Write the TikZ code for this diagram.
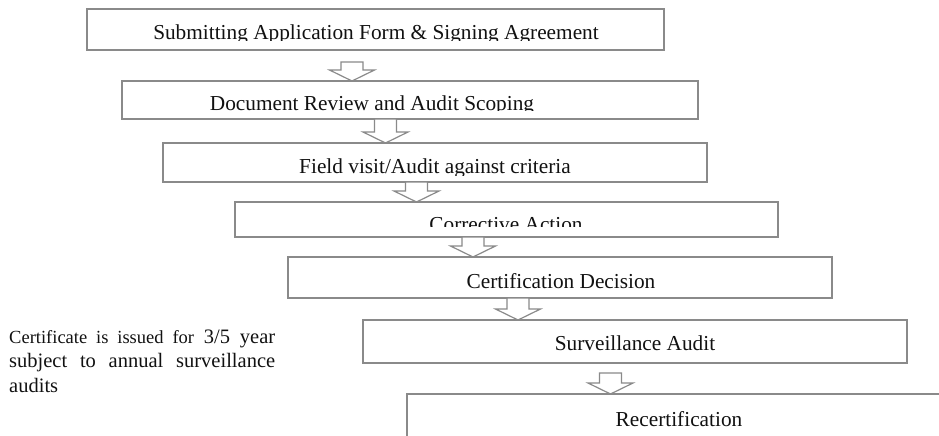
\documentclass[tikz,border=0pt]{standalone}
\usepackage{fontspec}
\setmainfont{Liberation Serif}
\definecolor{boxgray}{HTML}{8A8A8A}
\definecolor{txt}{HTML}{111111}
\newcommand{\blkarrow}[4]{% #1 x-coordinate name, #2 from node, #3 top gap, #4 to node
  \draw[blk] ([xshift=-11pt,yshift=-#3pt]#2.south -| #1) -- ([xshift=11pt,yshift=-#3pt]#2.south -| #1)
    -- ([xshift=11pt,yshift=11pt]#4.north -| #1) -- ([xshift=22.5pt,yshift=11pt]#4.north -| #1)
    -- (#4.north -| #1) -- ([xshift=-22.5pt,yshift=11pt]#4.north -| #1)
    -- ([xshift=-11pt,yshift=11pt]#4.north -| #1) -- cycle;}
\begin{document}
\begin{tikzpicture}[x=1pt,y=-1pt,
  box/.style={draw=boxgray,line width=1.4pt,rectangle,inner sep=0pt,outer sep=0pt},
  lbl/.style={font=\fontsize{21.3}{24}\selectfont,text=txt,anchor=base,inner sep=0pt},
  blk/.style={draw=boxgray,line width=1.2pt,fill=white,line join=miter}]
\useasboundingbox[fill=white] (0,0) rectangle (939,436);
% boxes
\node[box,minimum width=577pt,minimum height=41pt] (b1) at (375.5,29.5) {};
\node[box,minimum width=576pt,minimum height=38pt] (b2) at (410,100) {};
\node[box,minimum width=544pt,minimum height=39pt] (b3) at (435,162.5) {};
\node[box,minimum width=543pt,minimum height=35pt] (b4) at (506.5,219.5) {};
\node[box,minimum width=544pt,minimum height=41pt] (b5) at (560,277.5) {};
\node[box,minimum width=544pt,minimum height=43pt] (b6) at (635,341.5) {};
\node[inner sep=0pt,outer sep=0pt,minimum width=560pt,minimum height=60pt,anchor=north west] (b7) at (407,394) {};
\draw[draw=boxgray,line width=1.4pt] (b7.south west) -- (b7.north west) -- (b7.north east);
% texts (clipped as in the original)
\begin{scope}\clip (87,9) rectangle (664,41);
\node[lbl] (t1) at (376,39.5) {Submitting Application Form \& Signing Agreement};
\end{scope}
\begin{scope}\clip (122,81) rectangle (698,110.5);
\node[lbl] (t2) at (372,110.5) {Document Review and Audit Scoping};
\end{scope}
\begin{scope}\clip (163,143) rectangle (707,175);
\node[lbl] (t3) at (435,173) {Field visit/Audit against criteria};
\end{scope}
\begin{scope}\clip (235,202) rectangle (778,226);
\node[lbl] (t4) at (506,231.6) {Corrective Action};
\end{scope}
\node[lbl] (t5) at (561,288) {Certification Decision};
\node[lbl] (t6) at (635,350) {Surveillance Audit};
\node[lbl] (t7) at (679,426) {Recertification};
% side note
\node[anchor=north west,inner sep=0pt,text width=266pt,align=justify,text=txt,
      font=\fontsize{20.5}{24.5}\selectfont] (note) at (9,329.5)
  {\hyphenpenalty=10000 {\fontsize{18.5}{24.5}\selectfont Certificate is issued for} 3/5 year\linebreak subject to annual surveillance\linebreak audits};
% block arrows
\coordinate (a1) at (352,0);
\coordinate (a2) at (385.5,0);
\coordinate (a3) at (416.5,0);
\coordinate (a4) at (473,0);
\coordinate (a5) at (518,0);
\coordinate (a6) at (610.5,0);
\blkarrow{a1}{b1}{12}{b2}
\blkarrow{a2}{b2}{0}{b3}
\blkarrow{a3}{b3}{0}{b4}
\blkarrow{a4}{b4}{0}{b5}
\blkarrow{a5}{b5}{0}{b6}
\blkarrow{a6}{b6}{10}{b7}
\end{tikzpicture}
\end{document}
